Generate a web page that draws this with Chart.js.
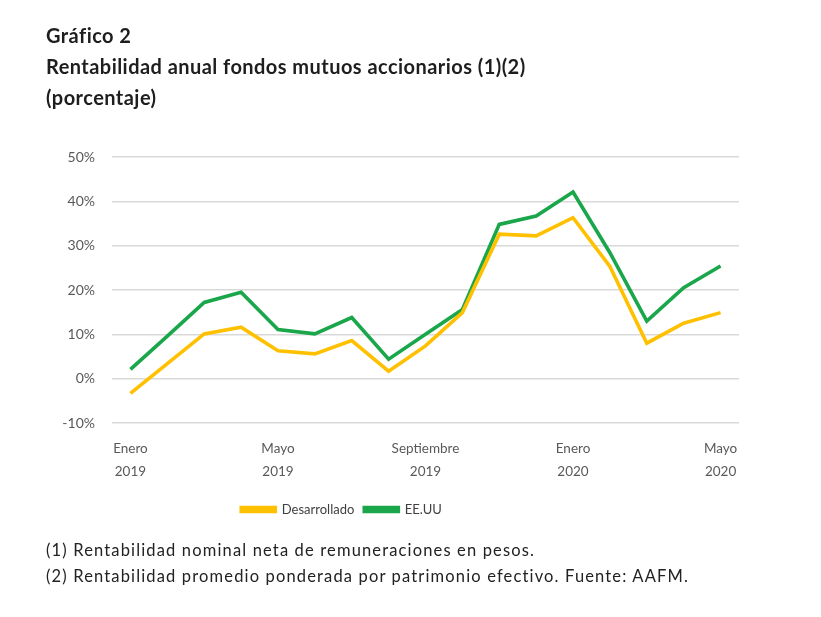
<!DOCTYPE html>
<html>
<head>
<meta charset="utf-8">
<script src="https://cdn.jsdelivr.net/npm/chart.js@4.4.1/dist/chart.umd.min.js"></script>
<style>
  html, body { margin: 0; padding: 0; background: #fff; }
  #wrap { position: relative; width: 821px; height: 617px; overflow: hidden; }
  #c { position: absolute; left: 0; top: 0; }
  .t { position: absolute; left: 46px; font-family: Lato, "Open Sans", sans-serif; color: #1e1e1e; white-space: nowrap; }
  .title { font-weight: bold; font-size: 20px; letter-spacing: 0.45px; }
  .note { font-size: 16.5px; color: #222; letter-spacing: 1.15px; }
</style>
</head>
<body>
<div id="wrap">
  <canvas id="c" width="821" height="617"></canvas>
  <div class="t title" style="top:23px;">Gráfico 2</div>
  <div class="t title" style="top:54px;">Rentabilidad anual fondos mutuos accionarios (1)(2)</div>
  <div class="t title" style="top:85px;">(porcentaje)</div>
  <div class="t note" style="top:540px;">(1) Rentabilidad nominal neta de remuneraciones en pesos.</div>
  <div class="t note" style="top:566px;">(2) Rentabilidad promedio ponderada por patrimonio efectivo. Fuente: AAFM.</div>
</div>
<script>
const meses = [
  "Enero 2019", "Febrero 2019", "Marzo 2019", "Abril 2019", "Mayo 2019", "Junio 2019",
  "Julio 2019", "Agosto 2019", "Septiembre 2019", "Octubre 2019", "Noviembre 2019",
  "Diciembre 2019", "Enero 2020", "Febrero 2020", "Marzo 2020", "Abril 2020", "Mayo 2020"
];
const desarrollado = [-3.3, 3.4, 10.1, 11.6, 6.3, 5.6, 8.6, 1.7, 7.4, 14.9, 32.6, 32.2, 36.3, 25.3, 8.0, 12.5, 14.9];
const eeuu = [2.1, 9.6, 17.2, 19.5, 11.1, 10.1, 13.8, 4.4, 10.0, 15.6, 34.8, 36.7, 42.1, 28.4, 13.0, 20.5, 25.4];
const yMin = -10, yMax = 50, yStep = 10;

const FONT = 'Lato, "Open Sans", sans-serif';

const legendShift = {
  id: 'legendShift',
  afterLayout(chart) {
    if (chart.legend) { chart.legend.left -= 53; chart.legend.right -= 53; }
  }
};

new Chart(document.getElementById('c'), {
  type: 'line',
  data: {
    labels: meses,
    datasets: [
      { label: 'Desarrollado', data: desarrollado, borderColor: '#FFC000', backgroundColor: '#FFC000',
        borderWidth: 3.6, pointRadius: 0, tension: 0 },
      { label: 'EE.UU', data: eeuu, borderColor: '#1AA64A', backgroundColor: '#1AA64A',
        borderWidth: 3.6, pointRadius: 0, tension: 0 }
    ]
  },
  plugins: [legendShift],
  options: {
    responsive: false,
    animation: false,
    layout: { padding: { left: 50, right: 82, top: 157, bottom: 91 } },
    plugins: {
      legend: {
        position: 'bottom',
        labels: {
          boxWidth: 34, boxHeight: 4, padding: 10,
          color: '#404040', font: { family: FONT, size: 13 }
        }
      },
      tooltip: { enabled: false }
    },
    scales: {
      x: {
        offset: true,
        grid: { display: false },
        border: { display: false },
        afterFit: (s) => { s.height = 70; },
        ticks: {
          autoSkip: false, maxRotation: 0, padding: 7,
          color: '#595959', font: { family: FONT, size: 13.5, lineHeight: 1.65 },
          callback: (v, i) => (i % 4 === 0 ? meses[i].split(' ') : '')
        }
      },
      y: {
        min: yMin, max: yMax,
        border: { display: false },
        grid: { color: '#d9d9d9', lineWidth: 1.5, drawTicks: false },
        afterFit: (s) => { s.width = 62; },
        ticks: {
          stepSize: yStep, padding: 17,
          color: '#595959', font: { family: FONT, size: 14 },
          callback: (v) => v + '%'
        }
      }
    }
  }
});
</script>
</body>
</html>
